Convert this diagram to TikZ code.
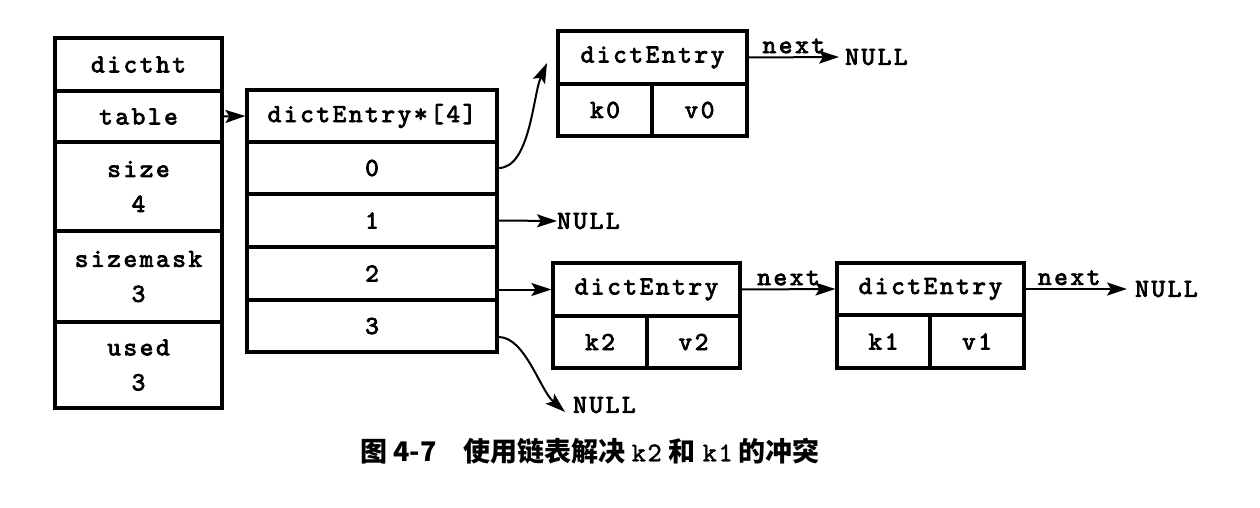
\documentclass[tikz,border=0pt]{standalone}
\usepackage{fontspec}
\setmonofont{lmmono10-regular.otf}[LetterSpace=10, FakeBold=3]
\newfontfamily\capmono{lmmono10-regular.otf}[LetterSpace=6, FakeBold=1.5]
\newfontfamily\cjk{Noto Sans CJK SC}
\usetikzlibrary{arrows.meta}
\begin{document}
\begin{tikzpicture}[x=1pt,y=-1pt,
  cell/.style={draw, line width=3.2pt, inner sep=0pt, align=center,
    font=\ttfamily\fontsize{26}{35}\selectfont},
  arr/.style={line width=2pt, -{Stealth[length=20pt,width=13pt,inset=4pt]}},
  lbl/.style={inner sep=0pt, font=\ttfamily\fontsize{26}{30}\selectfont}
]
\useasboundingbox (0,0) rectangle (1260,508);
% dictht
\node[cell, minimum width=167, minimum height=53] (dictht) at (138.5,64.5) {dictht};
\node[cell, minimum width=167, minimum height=51] (table) at (138.5,116.5) {table};
\node[cell, minimum width=167, minimum height=89] (size) at (138.5,186.5) {size\\4};
\node[cell, minimum width=167, minimum height=91] (sizemask) at (138.5,276.5) {sizemask\\3};
\node[cell, minimum width=167, minimum height=86] (used) at (138.5,365) {used\\3};
% array
\node[cell, minimum width=250, minimum height=52] (arrh) at (372,116) {dictEntry*[4]};
\node[cell, minimum width=250, minimum height=52] (s0) at (372,168) {0};
\node[cell, minimum width=250, minimum height=53] (s1) at (372,220.5) {1};
\node[cell, minimum width=250, minimum height=53] (s2) at (372,273.5) {2};
\node[cell, minimum width=250, minimum height=52] (s3) at (372,326) {3};
% entry 0
\node[cell, minimum width=189, minimum height=53] (e0h) at (652.5,57.5) {dictEntry};
\node[cell, minimum width=94, minimum height=52] (k0) at (605,110) {k0};
\node[cell, minimum width=95, minimum height=52] (v0) at (699.5,110) {v0};
% entry 2
\node[cell, minimum width=187, minimum height=53] (e2h) at (646.5,289.5) {dictEntry};
\node[cell, minimum width=94, minimum height=52] (k2) at (600,342) {k2};
\node[cell, minimum width=93, minimum height=52] (v2) at (693.5,342) {v2};
% entry 1
\node[cell, minimum width=187, minimum height=52] (e1h) at (930.5,289) {dictEntry};
\node[cell, minimum width=93, minimum height=53] (k1) at (883.5,341.5) {k1};
\node[cell, minimum width=94, minimum height=53] (v1) at (977,341.5) {v1};
% NULLs
\node[lbl, anchor=west] (n0) at (845,57) {NULL};
\node[lbl, anchor=west] (n1) at (557,221) {NULL};
\node[lbl, anchor=west] (n3) at (573,405) {NULL};
\node[lbl, anchor=west] (nr) at (1135,289) {NULL};
\coordinate (c0) at (547,63);
\coordinate (c3) at (565,412);
% arrows
\draw[arr] (table.east) -- (arrh.west);
\draw[arr] (s0.east) .. controls (530,168) and (533,95) .. (c0);
\draw[arr] (s1.east) -- (n1.west);
\draw[arr] (s2.east |- e2h.west) -- (e2h.west);
\draw[arr] ([yshift=-11pt]s3.east) .. controls (525,337) and (540,390) .. (c3);
\draw[arr] (e0h.east) -- node[lbl, above=3pt] {next} ([xshift=-6pt]n0.west);
\draw[arr] (e2h.east) -- node[lbl, above=3pt] {next} (e1h.west);
\draw[arr] (e1h.east) -- node[lbl, above=3pt, pos=0.43] {next} ([xshift=-8pt]nr.west);
% caption
\node[inner sep=0pt, font=\cjk\bfseries\fontsize{27}{30}\selectfont] (cap) at (590,451)
  {图 4-7\quad 使用链表解决\hspace{6pt}{\capmono\mdseries k2}\hspace{7pt}和\hspace{7pt}{\capmono\mdseries k1}\hspace{6pt}的冲突};
\end{tikzpicture}
\end{document}
